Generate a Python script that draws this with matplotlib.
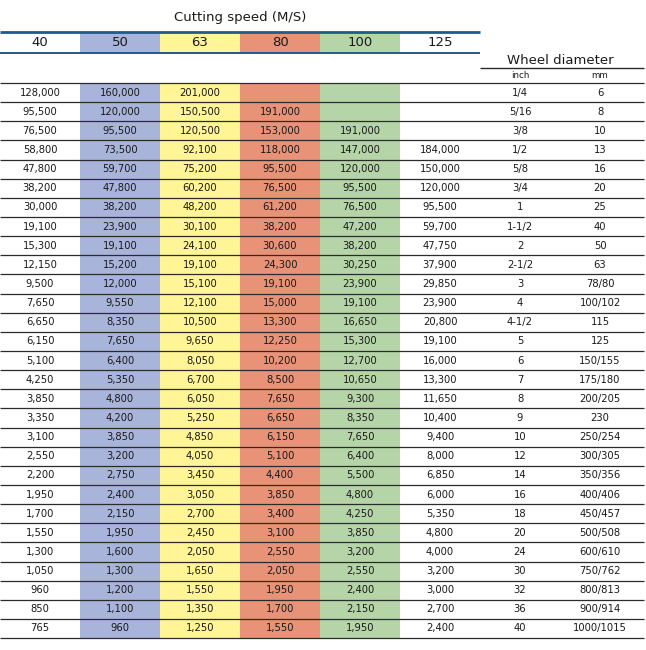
import matplotlib
matplotlib.use("Agg")
import matplotlib.pyplot as plt

plt.rcParams['font.family'] = ['DejaVu Sans']

title = "Cutting speed (M/S)"
speeds = ["40", "50", "63", "80", "100", "125"]
col_colors = ["#ffffff", "#a9b4db", "#fff496", "#e89278", "#b5d5a8", "#ffffff"]

c40 = [128000, 95500, 76500, 58800, 47800, 38200, 30000, 19100, 15300, 12150,
       9500, 7650, 6650, 6150, 5100, 4250, 3850, 3350, 3100, 2550,
       2200, 1950, 1700, 1550, 1300, 1050, 960, 850, 765]
c50 = [160000, 120000, 95500, 73500, 59700, 47800, 38200, 23900, 19100, 15200,
       12000, 9550, 8350, 7650, 6400, 5350, 4800, 4200, 3850, 3200,
       2750, 2400, 2150, 1950, 1600, 1300, 1200, 1100, 960]
c63 = [201000, 150500, 120500, 92100, 75200, 60200, 48200, 30100, 24100, 19100,
       15100, 12100, 10500, 9650, 8050, 6700, 6050, 5250, 4850, 4050,
       3450, 3050, 2700, 2450, 2050, 1650, 1550, 1350, 1250]
c80 = [None, 191000, 153000, 118000, 95500, 76500, 61200, 38200, 30600, 24300,
       19100, 15000, 13300, 12250, 10200, 8500, 7650, 6650, 6150, 5100,
       4400, 3850, 3400, 3100, 2550, 2050, 1950, 1700, 1550]
c100 = [None, None, 191000, 147000, 120000, 95500, 76500, 47200, 38200, 30250,
        23900, 19100, 16650, 15300, 12700, 10650, 9300, 8350, 7650, 6400,
        5500, 4800, 4250, 3850, 3200, 2550, 2400, 2150, 1950]
c125 = [None, None, None, 184000, 150000, 120000, 95500, 59700, 47750, 37900,
        29850, 23900, 20800, 19100, 16000, 13300, 11650, 10400, 9400, 8000,
        6850, 6000, 5350, 4800, 4000, 3200, 3000, 2700, 2400]
inch = ["1/4", "5/16", "3/8", "1/2", "5/8", "3/4", "1", "1-1/2", "2", "2-1/2",
        "3", "4", "4-1/2", "5", "6", "7", "8", "9", "10", "12",
        "14", "16", "18", "20", "24", "30", "32", "36", "40"]
mm = ["6", "8", "10", "13", "16", "20", "25", "40", "50", "63",
      "78/80", "100/102", "115", "125", "150/155", "175/180", "200/205", "230", "250/254", "300/305",
      "350/356", "400/406", "450/457", "500/508", "600/610", "750/762", "800/813", "900/914", "1000/1015"]

columns = [c40, c50, c63, c80, c100, c125]
n = len(inch)

# layout in column / row units (1 column = 80 px, 1 row = ~19.1 px)
rh = 19.14
top = -83 / rh
fig = plt.figure(figsize=(6.46, 6.50), dpi=100)
ax = fig.add_axes([0, 0, 1, 1])
ax.set_xlim(0, 646 / 80)
ax.set_ylim((650 - 83) / rh, top)
ax.axis("off")

txt = "#1a1a1a"
blue = "#1f5a8c"
hdr_top, hdr_bot = (32 - 83) / rh, (53 - 83) / rh

for i, col in enumerate(columns):
    ax.bar(i + 0.5, n, bottom=0, width=1, color=col_colors[i], zorder=0)
    ax.bar(i + 0.5, hdr_bot - hdr_top, bottom=hdr_top, width=1, color=col_colors[i], zorder=0)
    ax.text(i + 0.5, (hdr_top + hdr_bot) / 2, speeds[i], ha="center", va="center",
            fontsize=9.5, color=txt)
    for r, v in enumerate(col):
        if v is not None:
            ax.text(i + 0.5, r + 0.5, f"{v:,}", ha="center", va="center",
                    fontsize=7.2, color=txt)

for r in range(n):
    ax.text(6.5, r + 0.5, inch[r], ha="center", va="center", fontsize=7.2, color=txt)
    ax.text(7.5, r + 0.5, mm[r], ha="center", va="center", fontsize=7.2, color=txt)

ax.hlines([hdr_top], 0, 6, color=blue, lw=2.0)
ax.hlines([hdr_bot], 0, 6, color=blue, lw=1.4)
ax.text(3.0, (18 - 83) / rh, title, ha="center", va="center", fontsize=9.5, color=txt)

ax.text(7.0, (61 - 83) / rh, "Wheel diameter", ha="center", va="center", fontsize=9.5, color=txt)
ax.hlines([(68 - 83) / rh], 6, 8.05, color="#2b2b2b", lw=1.0)
ax.text(6.5, (76 - 83) / rh, "inch", ha="center", va="center", fontsize=6.3, color=txt)
ax.text(7.5, (76 - 83) / rh, "mm", ha="center", va="center", fontsize=6.3, color=txt)

ax.hlines(range(n + 1), 0, 8.05, color="#2b2b2b", lw=0.9)

fig.savefig("out.png", dpi=100)
